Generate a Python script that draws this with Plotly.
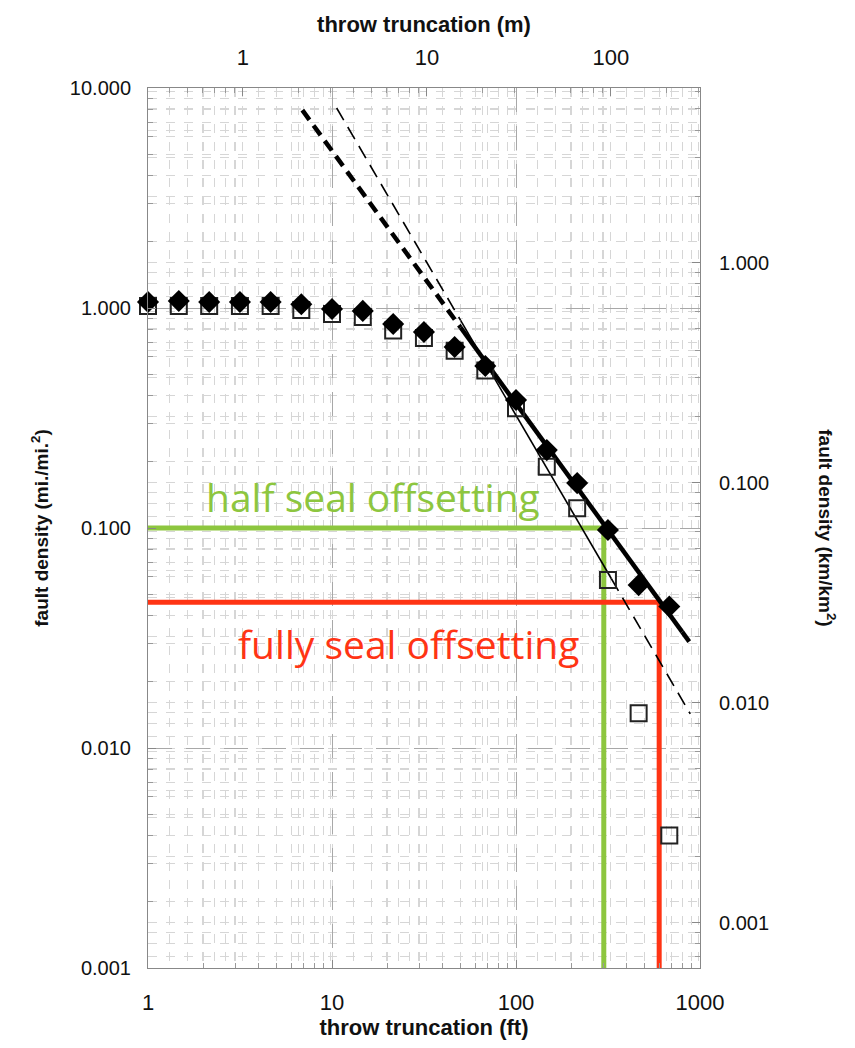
import numpy as np
import plotly.graph_objects as go

# ---- data -------------------------------------------------------------
throw_ft = [1.0, 1.47, 2.15, 3.16, 4.64, 6.81, 10.0, 14.7, 21.5, 31.6,
            46.4, 68.1, 100.0, 147.0, 215.0, 316.0, 464.0, 681.0]
density_all = [1.065, 1.076, 1.065, 1.065, 1.065, 1.04, 0.99, 0.97, 0.846, 0.778,
               0.665, 0.545, 0.382, 0.226, 0.16, 0.098, 0.055, 0.044]
density_sub = [1.02, 1.02, 1.02, 1.02, 1.02, 0.98, 0.94, 0.91, 0.79, 0.73,
               0.64, 0.52, 0.35, 0.19, 0.123, 0.058, 0.0144, 0.004]

# power-law fits: density = coef * throw ** expo
fit_thick = dict(coef=73.0, expo=-1.149)
fit_thin = dict(coef=239.0, expo=-1.433)
# segments (ft): dashed, solid, dashed
thick_segments = [(6.9, 50.0, "dash"), (50.0, 800.0, "solid"), (800.0, 880.0, "dash")]
thin_segments = [(10.6, 50.0, "dash"), (50.0, 330.0, "solid"), (330.0, 885.0, "dash")]

half_seal = dict(throw=300.0, density=0.100)
full_seal = dict(throw=600.0, density=0.046)

y_ticks_mi = [0.001, 0.01, 0.1, 1.0, 10.0]
y_labels_mi = ["0.001", "0.010", "0.100", "1.000", "10.000"]
y_ticks_km = [0.001, 0.01, 0.1, 1.0]
y_labels_km = ["0.001", "0.010", "0.100", "1.000"]
x_ticks_ft = [1, 10, 100, 1000]
x_ticks_m = [1, 10, 100]

FT_PER_M = 3.28084
KM2_FACTOR = 1 / 1.609344  # mi/mi^2 -> km/km^2

GREEN = "#8dc63f"
RED = "#ff3414"

fig = go.Figure()


def fit_line(fit, lo, hi):
    xs = np.logspace(np.log10(lo), np.log10(hi), 30)
    return xs, fit["coef"] * xs ** fit["expo"]


# seal-offsetting guides
for guide, color in ((half_seal, GREEN), (full_seal, RED)):
    fig.add_trace(go.Scatter(
        x=[1.0, guide["throw"], guide["throw"]],
        y=[guide["density"], guide["density"], 0.001],
        mode="lines", line=dict(color=color, width=5),
        hoverinfo="skip", showlegend=False, cliponaxis=True))

# fitted trend lines
for fit, segs, width, dash in ((fit_thin, thin_segments, 1.6, "14px,8px"),
                               (fit_thick, thick_segments, 4.5, "12px,7px")):
    for lo, hi, style in segs:
        xs, ys = fit_line(fit, lo, hi)
        fig.add_trace(go.Scatter(
            x=xs, y=ys, mode="lines",
            line=dict(color="black", width=width,
                      dash=dash if style == "dash" else "solid"),
            hoverinfo="skip", showlegend=False))

# observed densities
fig.add_trace(go.Scatter(
    x=throw_ft, y=density_sub, mode="markers", cliponaxis=False,
    marker=dict(symbol="square-open", size=16, color="#222",
                line=dict(width=2, color="#222")),
    showlegend=False))
fig.add_trace(go.Scatter(
    x=throw_ft, y=density_all, mode="markers", cliponaxis=False,
    marker=dict(symbol="diamond", size=17, color="black"),
    showlegend=False))

# invisible trace so the secondary axes get drawn
fig.add_trace(go.Scatter(x=[10], y=[1], xaxis="x2", yaxis="y2",
                         mode="markers", marker=dict(opacity=0),
                         hoverinfo="skip", showlegend=False))

NARROW = "Liberation Sans Narrow, Liberation Sans, Arial"
SANS = "Liberation Sans, Arial"
minor_grid = dict(showgrid=True, gridcolor="#d6d6d6", griddash="9px,9px",
                  gridwidth=1, ticks="inside", ticklen=5, tickcolor="#999",
                  dtick="D1")

common = dict(type="log", showline=True, linecolor="#888", linewidth=1,
              mirror=False, zeroline=False, ticks="inside", ticklen=8,
              tickcolor="#888", gridcolor="#a8a8a8", griddash="24px,14px",
              gridwidth=1.2, showgrid=True)

fig.update_layout(
    width=855, height=1048,
    margin=dict(l=148, r=155, t=88, b=80),
    plot_bgcolor="white", paper_bgcolor="white",
    xaxis=dict(common, range=[0, 3], tickvals=x_ticks_ft,
               ticktext=[str(v) for v in x_ticks_ft],
               tickfont=dict(family=NARROW, size=22, color="#111"),
               ticklabelstandoff=15,
               title=dict(text="<b>throw truncation (ft)</b>",
                          font=dict(family=NARROW, size=22, color="#111"),
                          standoff=3),
               minor=minor_grid),
    xaxis2=dict(common, overlaying="x", side="top", anchor="y",
                range=[np.log10(1 / FT_PER_M), np.log10(1000 / FT_PER_M)],
                tickvals=x_ticks_m, ticktext=[str(v) for v in x_ticks_m],
                tickfont=dict(family=NARROW, size=22, color="#111"),
                ticklabelstandoff=13, showgrid=False,
                title=dict(text="<b>throw truncation (m)</b>",
                           font=dict(family=NARROW, size=22, color="#111"),
                           standoff=6),
                minor=dict(minor_grid, showgrid=True)),
    yaxis=dict(common, range=[-3, 1], tickvals=y_ticks_mi, ticktext=y_labels_mi,
               tickfont=dict(family=SANS, size=20, color="#111"),
               ticklabelstandoff=12,
               title=dict(text="<b>fault density (mi./mi.<sup>2</sup>)</b>",
                          font=dict(family=NARROW, size=19, color="#111"),
                          standoff=16),
               minor=minor_grid),
    yaxis2=dict(common, overlaying="y", side="right", anchor="x",
                range=[np.log10(0.001 * KM2_FACTOR), np.log10(10 * KM2_FACTOR)],
                tickvals=y_ticks_km, ticktext=y_labels_km,
                tickfont=dict(family=SANS, size=20, color="#111"),
                ticklabelstandoff=14, showgrid=False,
                minor=dict(minor_grid, showgrid=True)),
    annotations=[
        dict(text="<b>fault density (km/km<sup>2</sup>)</b>", textangle=90,
             xref="paper", yref="paper", x=1.255, y=0.5, showarrow=False,
             font=dict(family=NARROW, size=19, color="#111")),
        dict(text="half seal offsetting", xref="paper", yref="paper",
             x=0.101, y=0.536, xanchor="left", yanchor="middle", showarrow=False,
             font=dict(family="Open Sans", size=39, color=GREEN)),
        dict(text="fully seal offsetting", xref="paper", yref="paper",
             x=0.159, y=0.369, xanchor="left", yanchor="middle", showarrow=False,
             font=dict(family="Open Sans", size=39, color=RED)),
    ],
)

fig.write_html("out.html")
